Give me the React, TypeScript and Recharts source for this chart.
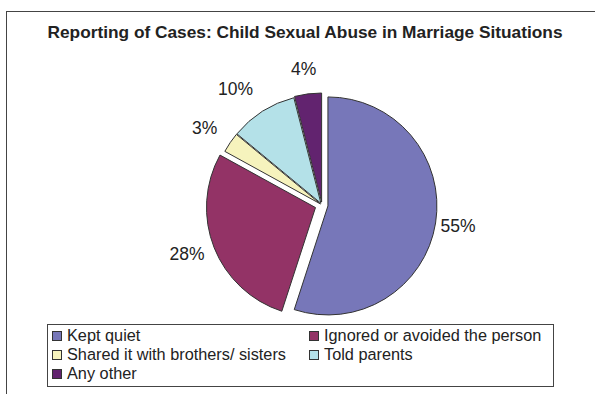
import React from "react";
import { PieChart, Pie } from "recharts";

const FONT = "'Liberation Sans', Arial, Helvetica, sans-serif";
const TEXT_COLOR = "#222222";
const EDGE_COLOR = "#333333";

const TITLE = "Reporting of Cases: Child Sexual Abuse in Marriage Situations";
const categories = [
  "Kept quiet",
  "Ignored or avoided the person",
  "Shared it with brothers/ sisters",
  "Told parents",
  "Any other",
];
const shares = [55, 28, 3, 10, 4];
const colors = ["#7777b9", "#933366", "#f6f3bd", "#b4e1e8", "#62236f"];
// how far each slice is pulled out of the pie, px
const explode = [6, 7, 2, 2, 3];

const data = categories.map((name, i) => ({ name, value: shares[i] }));

const RADIAN = Math.PI / 180;

// draws each slice shifted along its mid angle, plus its percentage label
const renderSlice = (props: any) => {
  const { cx, cy, outerRadius, startAngle, endAngle, midAngle, index, value } = props;
  const cos = Math.cos(midAngle * RADIAN);
  const sin = Math.sin(midAngle * RADIAN);
  const d = explode[index];
  const ox = cx + d * cos;
  const oy = cy - d * sin;
  const sa = startAngle * RADIAN;
  const ea = endAngle * RADIAN;
  const x1 = ox + outerRadius * Math.cos(sa);
  const y1 = oy - outerRadius * Math.sin(sa);
  const x2 = ox + outerRadius * Math.cos(ea);
  const y2 = oy - outerRadius * Math.sin(ea);
  const large = Math.abs(startAngle - endAngle) > 180 ? 1 : 0;
  const sweep = startAngle > endAngle ? 1 : 0;
  const path = `M${ox},${oy} L${x1},${y1} A${outerRadius},${outerRadius} 0 ${large} ${sweep} ${x2},${y2} Z`;

  const lr = outerRadius + 14;
  const lx = cx + lr * cos - 3;
  const ly = cy - lr * sin - sin * 10 - Math.max(sin, 0) * 4;
  const anchor = cos > 0.2 ? "start" : cos < -0.2 ? "end" : "middle";
  return (
    <g key={`slice-${index}`}>
      <path d={path} fill={colors[index]} stroke={EDGE_COLOR} strokeWidth={1} />
      <text
        x={lx}
        y={ly}
        textAnchor={anchor}
        dominantBaseline="central"
        fill={TEXT_COLOR}
        style={{ fontFamily: FONT, fontSize: 17.5 }}
      >
        {`${value}%`}
      </text>
    </g>
  );
};

const Legend = () => (
  <div
    style={{
      position: "absolute",
      left: 47,
      top: 324,
      width: 507,
      height: 63,
      border: "1px solid #444",
      boxSizing: "border-box",
      fontFamily: FONT,
      fontSize: 16.3,
      color: TEXT_COLOR,
      display: "grid",
      gridTemplateColumns: "257px 250px",
      gridAutoRows: "19px",
      paddingTop: 1,
      paddingLeft: 4,
    }}
  >
    {categories.map((name, i) => (
      <div key={name} style={{ display: "flex", alignItems: "center", whiteSpace: "nowrap" }}>
        <span
          style={{
            display: "inline-block",
            width: 8,
            height: 8,
            background: colors[i],
            border: "1px solid #333",
            marginRight: 5,
          }}
        />
        {name}
      </div>
    ))}
  </div>
);

export default function App() {
  return (
    <div style={{ position: "absolute", left: 0, top: 0, width: 595, height: 394, overflow: "hidden", background: "#fff" }}>
      <div
        style={{
          position: "absolute",
          left: 6,
          top: 11,
          width: 640,
          height: 440,
          borderLeft: "1.5px solid #444",
          borderTop: "1.5px solid #444",
        }}
      />
      <div
        style={{
          position: "absolute",
          left: 0,
          top: 22,
          width: 610,
          textAlign: "center",
          fontFamily: FONT,
          fontWeight: "bold",
          fontSize: 17.3,
          color: TEXT_COLOR,
        }}
      >
        {TITLE}
      </div>
      <div style={{ position: "absolute", left: 0, top: 0 }}>
        <PieChart width={595} height={394}>
          <Pie
            data={data}
            dataKey="value"
            nameKey="name"
            cx={317}
            cy={200}
            outerRadius={109}
            startAngle={90}
            endAngle={-270}
            fill="transparent"
            stroke="none"
            labelLine={false}
            label={renderSlice}
            isAnimationActive={false}
          />
        </PieChart>
      </div>
      <Legend />
    </div>
  );
}
